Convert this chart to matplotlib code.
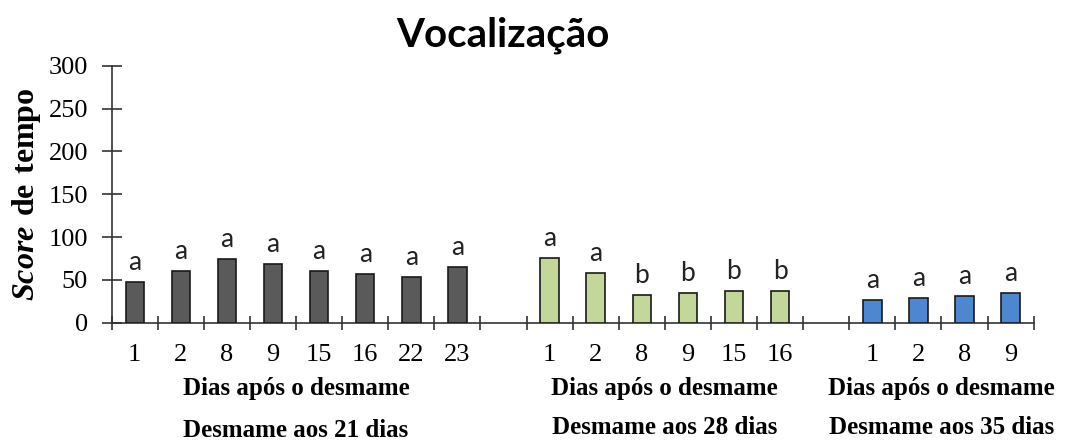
import numpy as np
import matplotlib.pyplot as plt

# days after weaning, one list per weaning age
days_21 = ['1', '2', '8', '9', '15', '16', '22', '23']
days_28 = ['1', '2', '8', '9', '15', '16']
days_35 = ['1', '2', '8', '9']

score_21 = [48, 60, 74, 68, 60, 57, 53, 65]
score_28 = [76, 58, 32, 35, 37, 37]
score_35 = [27, 29, 31, 35]

letters_21 = ['a', 'a', 'a', 'a', 'a', 'a', 'a', 'a']
letters_28 = ['a', 'a', 'b', 'b', 'b', 'b']
letters_35 = ['a', 'a', 'a', 'a']

group_names = ['Desmame aos 21 dias', 'Desmame aos 28 dias', 'Desmame aos 35 dias']
colors = ['#5a5a5a', '#c4d79b', '#4f86d0']

plt.rcParams['mathtext.fontset'] = 'custom'
plt.rcParams['mathtext.bf'] = 'Liberation Serif:bold'
plt.rcParams['mathtext.bfit'] = 'Liberation Serif:italic:bold'
plt.rcParams['mathtext.rm'] = 'Liberation Serif'

fig = plt.figure(figsize=(10.72, 4.4), dpi=100)
ax = fig.add_axes([0.1042, 0.2666, 0.86, 0.5841])

groups = [(days_21, score_21, letters_21), (days_28, score_28, letters_28), (days_35, score_35, letters_35)]
start = 0
tick_pos = []
tick_lab = []
centers = []
for (days, scores, lets), col in zip(groups, colors):
    x = start + np.arange(len(days)) + 0.5
    ax.bar(x, scores, width=0.4, color=col, edgecolor='#1a1a1a', linewidth=1.2, zorder=3)
    for xi, s, l in zip(x, scores, lets):
        ax.annotate(l, (xi, s), xytext=(0, 5), textcoords='offset points',
                    ha='center', va='bottom', fontsize=19, family='Lato', color='#222222')
    tick_pos += list(x)
    tick_lab += days
    centers.append(start + len(days) / 2)
    start += len(days) + 1
n_slots = start - 1

ax.set_xlim(0, n_slots)
ax.set_ylim(0, 300)
ax.set_yticks(np.arange(0, 301, 50))
ax.set_xticks(tick_pos)
ax.set_xticklabels(tick_lab)
ax.set_xticks(np.arange(0, n_slots + 1), minor=True)
ax.tick_params(axis='x', which='major', length=0, pad=15)
ax.tick_params(axis='x', which='minor', direction='inout', length=10, width=1.2, color='#333333')
ax.tick_params(axis='y', direction='inout', length=14, width=1.2, color='#333333', pad=10)
for lab in ax.get_xticklabels() + ax.get_yticklabels():
    lab.set_family('Liberation Serif')
    lab.set_fontsize(19)
for s in ['top', 'right']:
    ax.spines[s].set_visible(False)
for s in ['left', 'bottom']:
    ax.spines[s].set_linewidth(1.2)
    ax.spines[s].set_color('#333333')

ax.set_ylabel(r'$\mathbfit{Score}\ \mathbf{de\ tempo}$', fontsize=23, labelpad=4)

for c, name, dy in zip(centers, group_names, [3, 0, 0]):
    xf = ax.transData.transform((c, 0))[0] / 1072
    fig.text(xf, 1 - 388 / 440, 'Dias após o desmame', ha='center', va='center',
             family='Liberation Serif', weight='bold', fontsize=18)
    fig.text(xf, 1 - (427 + dy) / 440, name, ha='center', va='center',
             family='Liberation Serif', weight='bold', fontsize=18)

fig.text(503 / 1072, 1 - 35 / 440, 'Vocalização', ha='center', va='center',
         family='Lato', weight='bold', fontsize=29)

fig.savefig('out.png', dpi=100)
